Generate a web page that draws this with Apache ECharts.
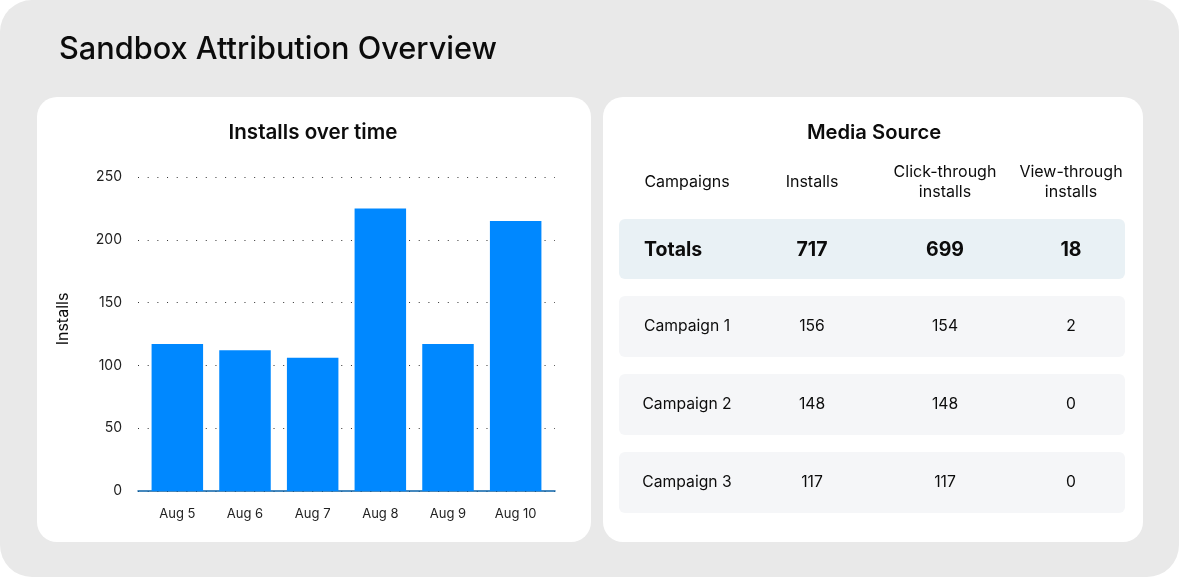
<!DOCTYPE html>
<html>
<head>
<meta charset="utf-8">
<title>Sandbox Attribution Overview</title>
<script src="https://cdn.jsdelivr.net/npm/echarts@6/dist/echarts.min.js"></script>
<style>
  html, body { margin: 0; padding: 0; background: #fff; }
  #main { width: 1179px; height: 577px; }
</style>
</head>
<body>
<div id="main"></div>
<script>
var days = ['Aug 5', 'Aug 6', 'Aug 7', 'Aug 8', 'Aug 9', 'Aug 10'];
var installs = [117, 112, 106, 225, 117, 215];
var yTicks = [0, 50, 100, 150, 200, 250];

var tableHeader = ['Campaigns', 'Installs', 'Click-through\ninstalls', 'View-through\ninstalls'];
var totalsRow = ['Totals', '717', '699', '18'];
var campaign1 = ['Campaign 1', '156', '154', '2'];
var campaign2 = ['Campaign 2', '148', '148', '0'];
var campaign3 = ['Campaign 3', '117', '117', '0'];

var fontName = 'Inter';
var colX = [687, 812, 945, 1071];

function panel(x, y, w, h, r, color) {
    return { type: 'rect', shape: { x: x, y: y, width: w, height: h, r: r }, style: { fill: color }, z: -10 };
}
function label(x, y, str, size, weight, align) {
    return {
        type: 'text', x: x, y: y, z: 5,
        style: {
            text: str, fill: '#0c0c0c', fontFamily: fontName, fontSize: size, fontWeight: weight,
            align: align || 'center', verticalAlign: 'middle', lineHeight: 20
        }
    };
}
function tableRow(row, y, size, weight) {
    return row.map(function (cell, i) {
        return label(colX[i], y, cell, size, weight);
    });
}

var elements = [
    panel(0, 0, 1179, 577, 32, '#e9e9e9'),
    panel(37, 97, 554, 445, 20, '#fff'),
    panel(603, 97, 540, 445, 20, '#fff'),
    panel(619, 219, 506, 60, 6, '#e9f1f5'),
    panel(619, 296, 506, 61, 6, '#f5f6f8'),
    panel(619, 374, 506, 61, 6, '#f5f6f8'),
    panel(619, 452, 506, 61, 6, '#f5f6f8'),
    label(59, 50, 'Sandbox Attribution Overview', 30.7, 500, 'left'),
    label(313, 133, 'Installs over time', 20.6, 600),
    label(874, 133, 'Media Source', 20.2, 600)
];
elements = elements
    .concat(tableRow(tableHeader, 182.5, 16, 400))
    .concat(tableRow(campaign1, 326.5, 15.7, 400))
    .concat(tableRow(campaign2, 404.5, 15.7, 400))
    .concat(tableRow(campaign3, 482.5, 15.7, 400));
// Totals label is left aligned, the numbers stay centred
elements.push(label(644, 250, totalsRow[0], 19.5, 700, 'left'));
for (var i = 1; i < totalsRow.length; i++) {
    elements.push(label(colX[i], 250, totalsRow[i], 19.5, 700));
}
// axis title sits above the middle of the axis in the reference
var axisTitle = label(63, 319, 'Installs', 16, 400);
axisTitle.rotation = Math.PI / 2;
elements.push(axisTitle);

var myChart = echarts.init(document.getElementById('main'));
var option = {
    animation: false,
    textStyle: { fontFamily: fontName },
    graphic: { elements: elements },
    // grid 0 holds the bars, grid 1 is a bit wider and only carries the dotted lines and baseline
    grid: [
        { left: 143.5, right: 629.5, top: 177, bottom: 86 },
        { left: 138, right: 624, top: 177, bottom: 86 }
    ],
    xAxis: [
        {
            type: 'category', gridIndex: 0, data: days,
            axisTick: { show: false },
            axisLine: { show: false },
            axisLabel: { color: '#222', fontSize: 13, margin: 17 }
        },
        {
            type: 'category', gridIndex: 1, data: days,
            axisTick: { show: false },
            axisLabel: { show: false },
            axisLine: { show: true, lineStyle: { color: '#0a62a8', width: 1.5 } }
        }
    ],
    yAxis: [
        {
            type: 'value', gridIndex: 0, min: yTicks[0], max: yTicks[yTicks.length - 1], interval: 50,
            axisLine: { show: false }, axisTick: { show: false },
            axisLabel: { show: false }, splitLine: { show: false }
        },
        {
            type: 'value', gridIndex: 1, min: yTicks[0], max: yTicks[yTicks.length - 1], interval: 50,
            axisLine: { show: false }, axisTick: { show: false },
            axisLabel: { color: '#222', fontSize: 14, margin: 16 },
            splitLine: {
                show: true,
                lineStyle: { color: '#333', width: 1, type: [1, 8.68] }
            }
        }
    ],
    series: [
        {
            type: 'bar', xAxisIndex: 0, yAxisIndex: 0, data: installs,
            barWidth: 51.5, z: 3,
            itemStyle: { color: '#0088ff' }
        }
    ]
};
myChart.setOption(option);
</script>
</body>
</html>
